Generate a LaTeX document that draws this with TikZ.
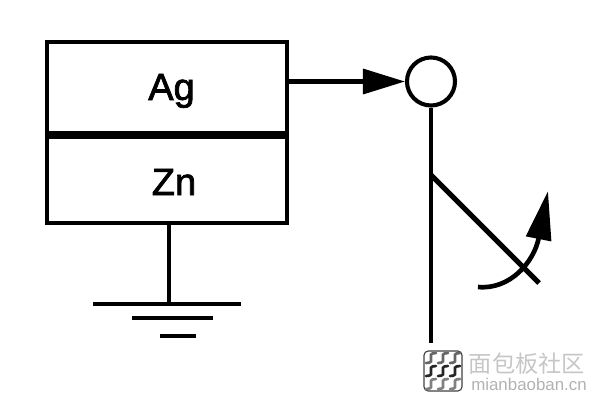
\documentclass[tikz,border=0pt]{standalone}
\usepackage{xcolor}
\usepackage{fontspec}
\setmainfont{Liberation Sans}
\newfontfamily\metalfont[FakeBold=2]{Liberation Sans}
\newfontfamily\cjkfont{Noto Sans CJK SC}
\usetikzlibrary{arrows.meta}

\begin{document}
\begin{tikzpicture}[x=0.025cm,y=-0.025cm,line cap=butt,
	wire/.style={line width=2.9pt},
	metal/.style={draw,line width=2.9pt,minimum width=6cm},
	metaltext/.style={anchor=base,inner sep=0pt,font=\metalfont\fontsize{27}{27}\selectfont},
	bigtip/.style={-{Stealth[length=1.05cm,width=0.62cm,inset=0pt]}},
	swingtip/.style={-{Stealth[length=1.22cm,width=0.62cm,inset=0pt]}},
	squiggle/.style={line width=1.9pt,line cap=round}]
	\useasboundingbox (0,0) rectangle (600,403);
	\node[metal,minimum height=2.275cm] (Ag) at (167,87.5) {};
	\node[metal,minimum height=2.25cm] (Zn) at (167,178) {};
	\node[metaltext] (AgText) at (171.5,100) {Ag};
	\node[metaltext] (ZnText) at (174,195) {Zn};
	\draw[line width=5pt] (Ag.south west) -- (Ag.south east);
	\node[draw,circle,line width=2.9pt,minimum size=1.2cm,inner sep=0pt] (contact) at (431,81.5) {};
	\coordinate (bottom) at (431,343);
	\coordinate (pivot) at (431,175);
	\coordinate (armend) at (539,283);
	\coordinate (swingstart) at (478,287);
	\coordinate (swingend) at (548,191);
	\coordinate (gnd) at (169,304);
	\draw[wire,bigtip] (contact.west -| Ag.east) -- (contact.west);
	\draw[wire] (contact) -- (bottom);
	\draw[line width=3.6pt] (pivot) -- (armend);
	\draw[line width=3.3pt,swingtip] (swingstart) .. controls (510,290) and (534,262) .. (swingend);
	% ground
	\draw[wire] (Zn.south -| gnd) -- (gnd);
	\draw[wire] (93,304) -- (241,304);
	\draw[line width=3.4pt] (132,318) -- (213,318);
	\draw[line width=3.4pt] (160,336) -- (196,336);
	% watermark
	\node[draw=black!75,line width=0.8pt,rounded corners=3pt,minimum width=0.95cm,minimum height=1cm,inner sep=0pt] (logo) at (443,371) {};
	\foreach \y/\shade in {358/60,371/85,384/50}
		\foreach \x in {431,443,455}
			\draw[squiggle,draw=black!\shade] (\x+5,\y-5) .. controls (\x-7,\y-5) and (\x+7,\y+5) .. (\x-5,\y+5);
	\node[text=gray!45,font=\cjkfont\fontsize{16.5}{16.5}\selectfont,inner sep=0pt] (markname) at (527,364) {面包板社区};
	\node[text=gray!60,font=\fontsize{12}{12}\selectfont,inner sep=0pt] (markurl) at (529,384) {mianbaoban.cn};
\end{tikzpicture}
\end{document}
